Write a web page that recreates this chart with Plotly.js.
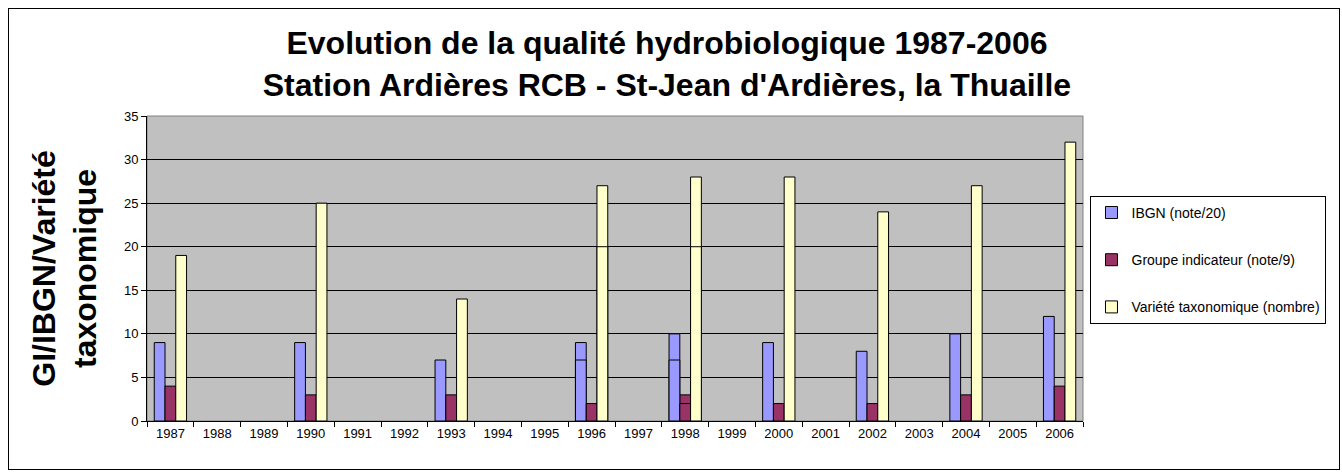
<!DOCTYPE html>
<html>
<head>
<meta charset="utf-8">
<script src="https://cdn.plot.ly/plotly-3.0.1.min.js"></script>
<style>
html,body{margin:0;padding:0;background:#fff;}
#chart{width:1342px;height:475px;}
#frame{position:absolute;left:8px;top:8px;width:1332px;height:462px;border:1px solid #000;pointer-events:none;box-sizing:border-box;}
</style>
</head>
<body>
<div id="chart"></div>
<div id="frame"></div>
<script>
const years = ['1987','1988','1989','1990','1991','1992','1993','1994','1995','1996','1997','1998','1999','2000','2001','2002','2003','2004','2005','2006'];
// first sample of each year
const ibgn    = [9,null,null,9,null,null,7,null,null,9,null,10,null,9,null,8,null,10,null,12];
const groupe  = [4,null,null,3,null,null,3,null,null,2,null,3,null,2,null,2,null,3,null,4];
const variete = [19,null,null,25,null,null,14,null,null,27,null,28,null,28,null,24,null,27,null,32];
// second sample (1996, 1998)
const ibgn2    = [null,null,null,null,null,null,null,null,null,7,null,7,null,null,null,null,null,null,null,null];
const groupe2  = [null,null,null,null,null,null,null,null,null,2,null,2,null,null,null,null,null,null,null,null];
const variete2 = [null,null,null,null,null,null,null,null,null,20,null,20,null,null,null,null,null,null,null,null];

const names = ['IBGN (note/20)','Groupe indicateur (note/9)','Variété taxonomique (nombre)'];
const colors = ['#9999FF','#993366','#FFFFCC'];
const first = [ibgn, groupe, variete];
const second = [ibgn2, groupe2, variete2];

const traces = [];
for (let i = 0; i < 3; i++) {
  traces.push({
    type:'bar', x: years, y: first[i], name: names[i],
    offsetgroup: 'g'+i, legendgroup: 'g'+i,
    marker:{color: colors[i], line:{color:'#000', width:1}},
    hoverinfo:'x+y'
  });
}
for (let i = 0; i < 3; i++) {
  traces.push({
    type:'bar', x: years, y: second[i], name: names[i],
    offsetgroup: 'g'+i, legendgroup: 'g'+i, showlegend:false,
    marker:{color: colors[i], line:{color:'#000', width:1}},
    hoverinfo:'x+y'
  });
}

const layout = {
  width:1342, height:475,
  margin:{l:147, r:259, t:116, b:54},
  paper_bgcolor:'#fff', plot_bgcolor:'#C0C0C0',
  font:{family:'Liberation Sans, Arial, sans-serif', size:13, color:'#000'},
  title:{
    text:'<b>Evolution de la qualité hydrobiologique 1987-2006<br>Station Ardières RCB - St-Jean d\'Ardières, la Thuaille</b>',
    font:{family:'Liberation Sans, Arial, sans-serif', size:32, color:'#000'},
    x:0.497, xref:'container', xanchor:'center', y:0.886, yanchor:'middle'
  },
  barmode:'group', bargap:0.31, bargroupgap:0,
  xaxis:{
    type:'category', categoryorder:'array', categoryarray: years,
    tickson:'boundaries', ticks:'outside', ticklen:5, tickcolor:'#000',
    showline:true, linecolor:'#000', linewidth:1, showgrid:false,
    tickfont:{size:13}, fixedrange:true
  },
  yaxis:{
    range:[0,35], dtick:5, tick0:0, ticks:'outside', ticklen:5, tickcolor:'#000',
    showline:true, linecolor:'#000', linewidth:1,
    showgrid:true, gridcolor:'#000', gridwidth:1, zeroline:false,
    tickfont:{size:13}, fixedrange:true,
    title:{text:'<b>GI/IBGN/Variété<br>taxonomique</b>', font:{size:32}, standoff:17}
  },
  legend:{
    x:1.008, xanchor:'left', y:0.738, yanchor:'top',
    bordercolor:'#000', borderwidth:1, bgcolor:'#fff',
    font:{size:14}, tracegroupgap:26, traceorder:'grouped', itemwidth:30
  },
  shapes:[{
    type:'rect', xref:'paper', yref:'paper', x0:0, x1:1, y0:0, y1:1,
    line:{color:'#808080', width:1}, layer:'below'
  }]
};

Plotly.newPlot('chart', traces, layout, {displayModeBar:false, staticPlot:true});
</script>
</body>
</html>
